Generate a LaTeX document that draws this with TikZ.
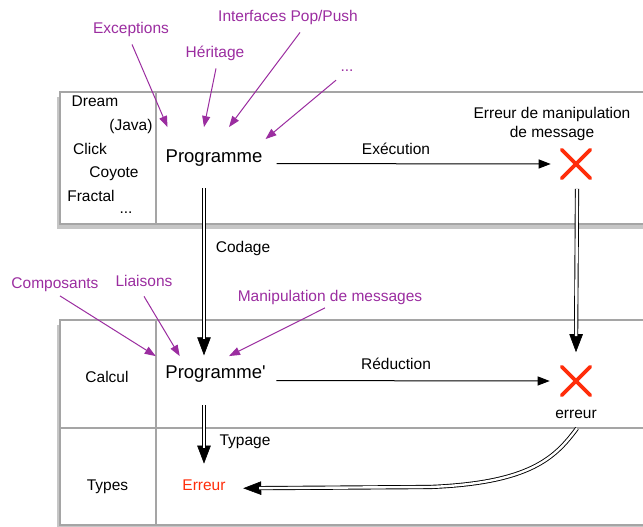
\documentclass[tikz,border=0pt]{standalone}
\usepackage{fontspec}
\setmainfont{Liberation Sans}
\usetikzlibrary{arrows.meta, shapes.misc, shadows}
\definecolor{annot}{RGB}{155,45,160}
\definecolor{errred}{RGB}{255,45,10}
\definecolor{boxgray}{RGB}{165,165,165}

\begin{document}
\begin{tikzpicture}[x=1pt,y=-1pt]
	\tikzstyle{every node}=[font=\fontsize{15.5}{19}\selectfont, inner sep=0pt, anchor=base]
	\tikzstyle{panel}=[draw=boxgray, line width=1.2pt, fill=white,
		drop shadow={shadow xshift=-3pt, shadow yshift=-5pt, opacity=0.45}]
	\tikzstyle{rule}=[draw=boxgray, line width=1.2pt]
	\tikzstyle{prog}=[font=\fontsize{18.5}{22}\selectfont]
	\tikzstyle{note}=[text=annot]
	\tikzstyle{hint}=[annot, line width=1pt, -{Triangle[length=11pt,width=8pt]}]
	\tikzstyle{flow}=[line width=1pt, -{Triangle[length=12pt,width=9pt]}]
	\tikzstyle{deduce}=[double, double distance=2.4pt, line width=0.9pt, shorten >=16pt]
	\tikzstyle{dtip}=[draw=white, line width=0.6pt, -{Triangle[length=18pt,width=13.5pt,color=black]}]
	\tikzstyle{fail}=[cross out, draw=errred, line width=3.6pt, line cap=round, minimum size=25pt, anchor=center]
	\useasboundingbox (0,0) rectangle (643,527);

	% panneaux
	\draw[panel] (60,92) rectangle (670,224);
	\draw[rule] (156,92) -- (156,224);
	\draw[panel] (60,320) rectangle (670,525);
	\draw[rule] (156,320) -- (156,525);
	\draw[rule] (60,428) -- (670,428);

	% langages
	\node (dream) at (95,106.5) {Dream};
	\node (java) at (131,130.5) {(Java)};
	\node (click) at (90,154.5) {Click};
	\node (coyote) at (114,177.5) {Coyote};
	\node (fractal) at (91,201.5) {Fractal};
	\node (others) at (126,213) {...};
	\node (calcul) at (107,382.5) {Calcul};
	\node (types) at (107.5,490.5) {Types};

	% programmes
	\node[prog] (prog) at (214,162) {Programme};
	\node[prog] (progb) at (215.5,378) {Programme\textquotesingle};
	\node[text=errred] (erreur) at (204,490.5) {Erreur};
	\node[fail] (xtop) at (576,164) {};
	\node[fail] (xbot) at (576,381) {};
	\node[align=center] (errmsg) at (552,137.5) {Erreur de manipulation\\de message};
	\node (errlbl) at (576,418) {erreur};

	% annotations
	\node[note] (exc) at (131,34) {Exceptions};
	\node[note] (herit) at (215,58) {Héritage};
	\node[note] (iface) at (288,22) {Interfaces Pop/Push};
	\node[note] (etc) at (347,71) {...};
	\node[note] (comp) at (55,288.5) {Composants};
	\node[note] (liais) at (144,286.5) {Liaisons};
	\node[note] (manip) at (330,301.5) {Manipulation de messages};

	\draw[hint] ([shift={(1,7)}]exc.south) -- ([shift={(2,-22)}]prog.north west);
	\draw[hint] ([shift={(1,7)}]herit.south) -- ([shift={(-10,-22)}]prog.north);
	\draw[hint] ([shift={(12,7)}]iface.south) -- ([shift={(15,-22)}]prog.north);
	\draw[hint] ([shift={(-11,9)}]etc.south) -- ([shift={(3,-10)}]prog.north east);
	\draw[hint] ([shift={(5,4)}]comp.south) -- ([shift={(-9.5,-9)}]progb.north west);
	\draw[hint] ([shift={(0,9.5)}]liais.south) -- ([shift={(14.5,-9)}]progb.north west);
	\draw[hint] ([shift={(-5,3)}]manip.south) -- ([shift={(13.5,-9)}]progb.north);

	% fleches
	\draw[flow] ([shift={(14,6)}]prog.east) -- ([shift={(-11,0)}]xtop.west);
	\node (exec) at (396,154.5) {Exécution};
	\draw[flow] ([shift={(10.5,7)}]progb.east) -- ([shift={(-12,0)}]xbot.west);
	\node (reduc) at (396,369.5) {Réduction};

	\draw[dtip] ([shift={(-10,22)}]prog.south) -- ([shift={(-11.5,-9.7)}]progb.north);
	\draw[deduce] ([shift={(-10,22)}]prog.south) -- ([shift={(-11.5,-9.7)}]progb.north);
	\node (codage) at (243,252.5) {Codage};
	\draw[dtip] ([shift={(1,10.5)}]xtop.south) -- ([shift={(0,-14.5)}]xbot.north);
	\draw[deduce] ([shift={(1,10.5)}]xtop.south) -- ([shift={(0,-14.5)}]xbot.north);
	\draw[dtip] ([shift={(-11.5,23)}]progb.south) -- ([shift={(0,-16)}]erreur.north);
	\draw[deduce] ([shift={(-11.5,23)}]progb.south) -- ([shift={(0,-16)}]erreur.north);
	\node (typage) at (245,445.5) {Typage};
	\draw[dtip] ([shift={(1,10)}]errlbl.south) .. controls (555,458) and (530,483) .. (430,487)
		-- ([shift={(17.5,3)}]erreur.east);
	\draw[deduce] ([shift={(1,10)}]errlbl.south) .. controls (555,458) and (530,483) .. (430,487)
		-- ([shift={(17.5,3)}]erreur.east);
\end{tikzpicture}
\end{document}
